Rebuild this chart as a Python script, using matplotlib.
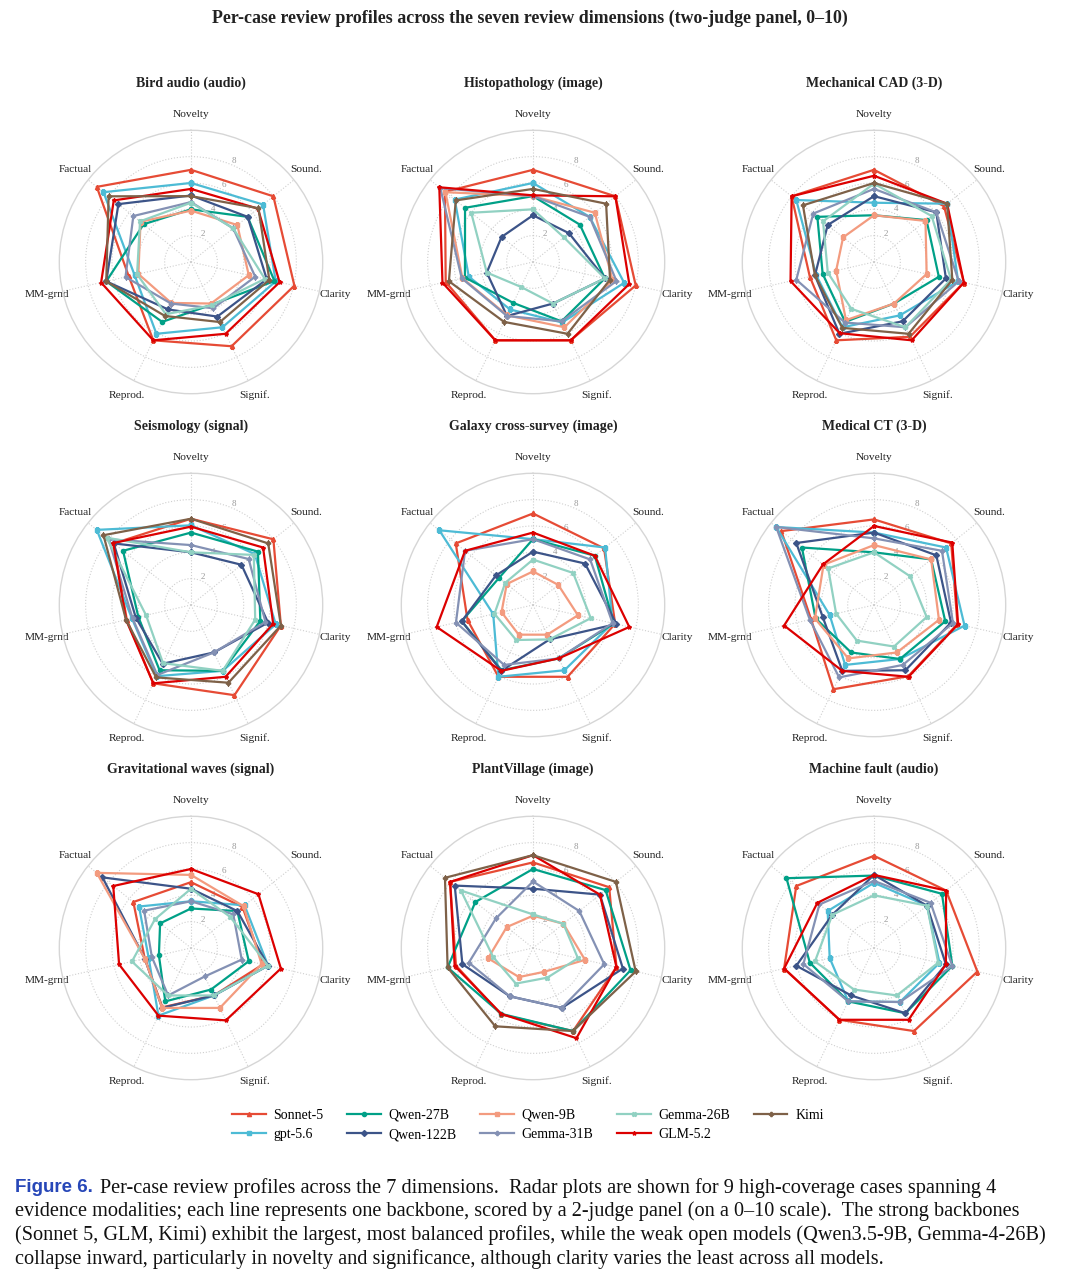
import numpy as np
import matplotlib
matplotlib.use('Agg')
import matplotlib.pyplot as plt

plt.rcParams['font.family'] = ['Liberation Serif', 'DejaVu Serif']

DIMS = ['Novelty', 'Sound.', 'Clarity', 'Signif.', 'Reprod.', 'MM-grnd', 'Factual']
MODELS = ['Sonnet-5', 'gpt-5.6', 'Qwen-27B', 'Qwen-122B', 'Qwen-9B',
          'Gemma-31B', 'Gemma-26B', 'GLM-5.2', 'Kimi']
COLORS = ['#E64B35', '#4DBBD5', '#00A087', '#3C5488', '#F39B7F',
          '#8491B4', '#91D1C2', '#DC0000', '#7E6148']
MARKERS = ['^', 's', 'o', 'D', 's', 'P', 'X', '*', 'P']

CASES = ['Bird audio (audio)', 'Histopathology (image)', 'Mechanical CAD (3-D)',
         'Seismology (signal)', 'Galaxy cross-survey (image)', 'Medical CT (3-D)',
         'Gravitational waves (signal)', 'PlantVillage (image)', 'Machine fault (audio)']

# one row per model (MODELS order), values in DIMS order; None = not scored
bird_audio = [
    [7.0, 8.0, 8.05, 7.1, 6.6, 4.85, 9.15],
    [6.0, 7.0, 6.6, 5.5, 6.05, 4.4, 8.5],
    [4.0, 5.5, 6.5, 3.6, 5.05, 6.6, 4.6],
    [5.05, 5.5, 5.9, 4.6, 4.0, 6.6, 7.05],
    [3.9, 4.5, 4.5, 3.5, 3.45, 4.1, 4.9],
    [4.55, 4.1, 5.0, 3.9, 3.5, 5.1, 5.6],
    [4.5, 4.1, 5.75, 3.65, 4.4, 4.2, 4.95],
    [5.55, 6.5, 6.9, 6.05, 6.6, 7.0, 7.5],
    [5.0, 6.55, 6.1, 5.06, 4.55, 6.6, 8.0],
]
histopathology = [
    [7.0, 8.0, 8.0, 6.6, 6.6, 6.8, 8.55],
    [6.0, 5.5, 7.1, 5.1, 4.0, 5.0, 7.6],
    [5.0, 4.55, 5.6, 5.0, 3.45, 5.3, 6.6],
    [3.55, 3.5, 5.6, 3.5, 4.55, 3.6, 3.05],
    [5.0, 6.0, 6.2, 5.5, 4.5, 5.5, 8.5],
    [5.0, 5.5, 6.5, 5.0, 4.55, 5.55, 9.0],
    [4.0, 3.0, 5.6, 3.5, 2.1, 3.6, 6.0],
    [5.06, 8.0, 7.5, 6.6, 6.6, 7.05, 9.1],
    [5.55, 7.1, 6.0, 6.05, 5.05, 6.55, 7.5],
]
mechanical_cad = [
    [7.0, 6.8, 7.0, 6.3, 6.6, 5.0, 8.0],
    [4.5, 7.1, 6.55, 4.5, 5.5, 4.5, 7.55],
    [3.55, 5.1, 5.05, 3.5, 5.05, 4.0, 5.5],
    [5.0, 6.05, 5.6, 5.0, 6.05, 4.6, 4.5],
    [3.55, 5.0, 4.1, 3.5, 4.9, 2.95, 3.0],
    [5.55, 6.05, 6.6, 5.5, 5.1, 6.05, 5.9],
    [5.95, 5.6, 6.0, 5.5, 3.95, 3.6, 4.95],
    [6.55, 7.1, 7.0, 6.6, 6.0, 6.5, 8.0],
    [6.0, 7.1, 6.1, 6.05, 5.55, 4.6, 6.9],
]
seismology = [
    [6.55, 8.0, 7.0, 7.6, 6.6, 5.0, 7.5],
    [6.05, 6.2, 6.6, 5.55, 6.0, 4.6, 9.15],
    [5.5, 6.5, 5.4, 5.55, 5.5, 4.1, 6.6],
    [4.0, 4.9, 6.0, 4.0, 4.95, 4.3, 7.5],
    None,
    [4.55, 5.6, 5.8, 4.0, 5.9, 4.55, 8.0],
    [4.0, 6.1, 5.0, 5.55, 4.9, 3.5, 8.2],
    [5.95, 7.0, 6.4, 6.05, 6.6, 5.06, 7.55],
    [6.55, 7.5, 7.0, 6.55, 6.1, 5.06, 8.5],
]
galaxy = [
    [6.95, 6.9, 6.4, 6.05, 6.05, 5.1, 7.5],
    [5.0, 7.0, 6.2, 5.5, 6.05, 3.1, 9.1],
    [5.0, 6.0, 6.3, 4.5, 5.5, 5.55, 3.3],
    [4.05, 5.05, 6.5, 2.9, 5.55, 5.55, 3.6],
    [2.55, 2.45, 3.5, 2.5, 2.5, 2.45, 2.55],
    [5.0, 5.55, 6.2, 4.5, 5.05, 6.0, 6.6],
    [3.45, 3.9, 4.5, 2.9, 2.95, 3.0, 2.7],
    [5.5, 6.0, 7.5, 4.5, 5.55, 7.5, 6.6],
    None,
]
medical_ct = [
    [6.5, 7.5, 6.5, 6.0, 7.1, 4.9, 9.0],
    [5.5, 7.0, 7.05, 4.55, 5.05, 3.45, 9.5],
    [4.0, 5.55, 5.55, 4.55, 4.0, 4.55, 7.0],
    [5.5, 6.05, 6.0, 5.5, 5.55, 4.0, 7.55],
    [4.55, 5.55, 5.06, 4.0, 4.5, 4.6, 4.9],
    [5.06, 6.6, 6.15, 5.05, 6.1, 5.0, 9.5],
    [4.0, 3.5, 4.1, 3.5, 3.0, 2.95, 4.45],
    [6.0, 7.6, 6.55, 6.05, 5.55, 7.0, 4.95],
    None,
]
grav_waves = [
    [5.0, 5.0, 5.6, 4.0, 5.0, 3.6, 5.6],
    [3.55, 5.2, 6.0, 4.0, 5.7, 3.3, 5.05],
    [3.0, 4.5, 4.5, 3.5, 4.5, 2.5, 3.0],
    [4.5, 4.5, 6.0, 4.0, 5.05, 3.6, 8.6],
    [5.55, 5.1, 5.5, 5.05, 5.05, 3.6, 9.15],
    [3.55, 4.1, 3.95, 2.4, 4.0, 3.05, 4.55],
    [4.5, 3.8, 6.0, 4.0, 4.0, 4.6, 3.5],
    [6.0, 6.55, 7.0, 6.1, 5.7, 5.6, 7.55],
    None,
]
plantvillage = [
    [6.5, 7.4, 6.5, 7.0, 5.6, 6.0, 8.05],
    None,
    [6.0, 7.05, 7.6, 7.0, 5.55, 6.65, 5.6],
    [4.5, 6.5, 7.0, 5.05, 4.07, 5.5, 7.6],
    [2.45, 2.95, 4.05, 2.0, 2.45, 3.5, 2.55],
    [5.05, 4.5, 5.55, 5.05, 4.07, 5.0, 3.6],
    [2.55, 2.95, 3.5, 2.5, 3.0, 3.1, 7.0],
    [7.05, 6.5, 6.5, 7.6, 5.55, 6.1, 8.05],
    [7.05, 8.05, 8.0, 7.0, 6.6, 6.65, 8.55],
]
machine_fault = [
    [7.0, 7.0, 8.05, 7.0, 6.05, 7.0, 7.55],
    [4.95, 5.15, 5.1, 4.55, 4.5, 3.45, 4.5],
    [5.5, 6.6, 6.1, 5.5, 4.5, 5.0, 8.5],
    [5.55, 5.15, 5.6, 5.5, 4.0, 6.05, 4.05],
    None,
    [5.1, 5.5, 6.1, 4.55, 4.5, 5.5, 5.3],
    [4.0, 5.15, 5.0, 4.0, 3.5, 4.6, 4.05],
    [5.55, 7.0, 5.6, 6.05, 6.05, 7.0, 5.5],
    None,
]
CASE_DATA = [bird_audio, histopathology, mechanical_cad, seismology, galaxy,
             medical_ct, grav_waves, plantvillage, machine_fault]

CAPTION = [
    'Per-case review profiles across the 7 dimensions.  Radar plots are shown for 9 high-coverage cases spanning 4',
    'evidence modalities; each line represents one backbone, scored by a 2-judge panel (on a 0\u201310 scale).  The strong backbones',
    '(Sonnet 5, GLM, Kimi) exhibit the largest, most balanced profiles, while the weak open models (Qwen3.5-9B, Gemma-4-26B)',
    'collapse inward, particularly in novelty and significance, although clarity varies the least across all models.',
]

W, H = 1080, 1279
fig = plt.figure(figsize=(W / 100, H / 100), dpi=100)
fig.patch.set_facecolor('white')

R = 131.7
cols_x = [191, 533, 874]
rows_y = [262, 605, 948]
angles = np.linspace(0, 2 * np.pi, len(DIMS), endpoint=False)
closed = np.append(angles, angles[0])

handles = None
for i, (title, case) in enumerate(zip(CASES, CASE_DATA)):
    cx, cy = cols_x[i % 3], rows_y[i // 3]
    ax = fig.add_axes([(cx - R) / W, (H - cy - R) / H, 2 * R / W, 2 * R / H],
                      projection='polar')
    ax.set_theta_zero_location('N')
    ax.set_theta_direction(-1)
    for vals, col, mk, name in zip(case, COLORS, MARKERS, MODELS):
        if vals is None:
            continue
        ax.plot(closed, np.append(vals, vals[0]), color=col, lw=1.6,
                marker=mk, ms=3, label=name)
    ax.set_ylim(0, 10)
    ax.set_yticks([2, 4, 6, 8])
    ax.set_yticklabels(['2', '4', '6', '8'], fontsize=6.5, color='#999999')
    ax.set_xticks(angles)
    ax.set_xticklabels(DIMS, fontsize=8.2, color='#222222')
    ax.tick_params(axis='x', pad=1)
    ax.grid(color='#cfcfcf', linestyle=':', linewidth=0.8)
    ax.spines['polar'].set_color('#d6d6d6')
    ax.spines['polar'].set_linewidth(1.0)
    ax.text(0.5, 1.18, title, transform=ax.transAxes, ha='center', va='center',
            fontsize=10, fontweight='bold', color='#222222')
    if i == 0:
        handles, labels = ax.get_legend_handles_labels()

fig.text(530 / W, 1 - 18 / H,
         'Per-case review profiles across the seven review dimensions (two-judge panel, 0\u201310)',
         ha='center', va='center', fontsize=12.9, fontweight='bold', color='#222222')

fig.legend(handles, labels, loc='center', bbox_to_anchor=(528 / W, 1 - 1125 / H),
           ncol=5, frameon=False, fontsize=10, handlelength=2.4,
           columnspacing=1.7, handletextpad=0.58, labelspacing=0.45)

fig.text(15 / W, 1 - 1188 / H, 'Figure 6.', ha='left', va='center', fontsize=13.5,
         fontweight='bold', color='#2747B8', family=['Liberation Sans', 'DejaVu Sans'])
line_y = [1188, 1211, 1235, 1259]
for k, (txt, y) in enumerate(zip(CAPTION, line_y)):
    x0 = 100 if k == 0 else 15
    fig.text(x0 / W, 1 - y / H, txt, ha='left', va='center', fontsize=14.6, color='#111111')

fig.savefig('out.png', dpi=100, facecolor='white')
